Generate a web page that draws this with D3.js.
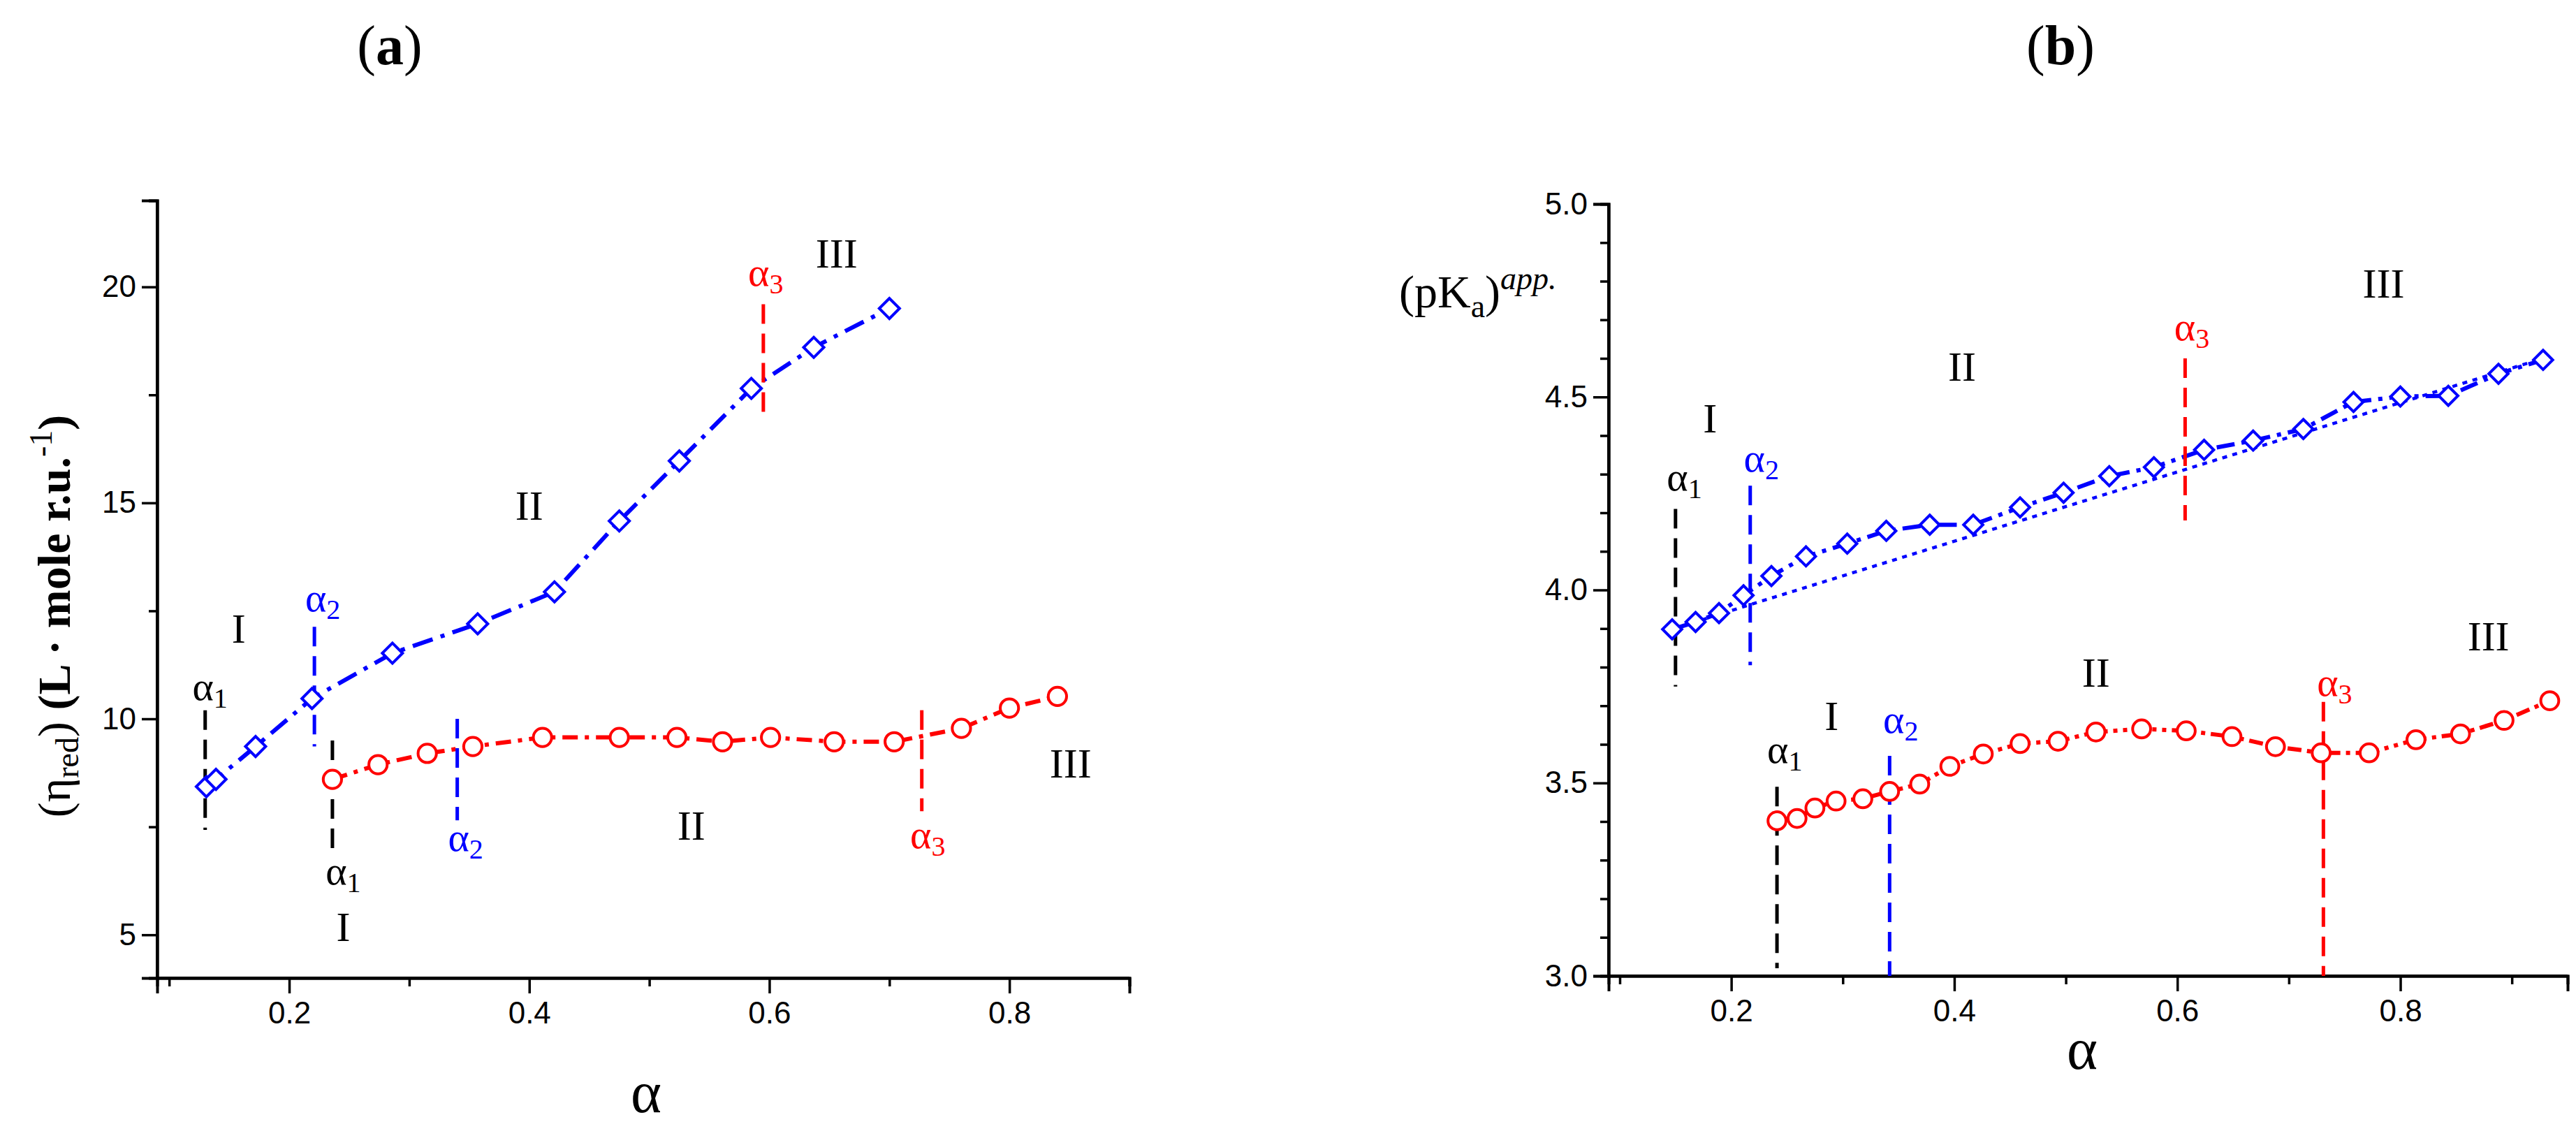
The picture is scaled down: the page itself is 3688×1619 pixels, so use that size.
<!DOCTYPE html>
<html><head><meta charset="utf-8">
<script src="https://cdn.jsdelivr.net/npm/d3@7"></script>
<style>
body{margin:0;background:#fff;}
.tick text{font-family:"Liberation Sans Narrow","Liberation Sans",sans-serif;font-size:44px;}
.serif{font-family:"Liberation Serif","DejaVu Serif",serif;}
</style></head><body>
<script>
// panel (a): reduced viscosity
var aBlue = [[0.131,8.43],[0.139,8.6],[0.172,9.36],[0.219,10.47],[0.286,11.52],[0.357,12.2],[0.421,12.94],[0.475,14.58],[0.525,15.97],[0.585,17.65],[0.637,18.6],[0.700,19.5]];
var aRed = [[0.236,8.6],[0.274,8.94],[0.315,9.2],[0.353,9.36],[0.411,9.57],[0.475,9.57],[0.523,9.57],[0.561,9.47],[0.601,9.57],[0.654,9.47],[0.704,9.47],[0.760,9.78],[0.800,10.25],[0.840,10.52]];
var aMarks = [[0.130,10.2,7.43,'#000'],[0.221,12.13,9.36,'#0000ff'],[0.236,9.5,6.8,'#000'],[0.340,10.0,7.65,'#0000ff'],[0.595,19.6,16.9,'#ff0000'],[0.727,10.2,7.86,'#ff0000']];
var aLabels = [[0.134,10.64,'α','1','#000'],[0.158,11.99,'I','','#000'],[0.228,12.7,'α','2','#0000ff'],[0.245,6.37,'α','1','#000'],[0.245,5.09,'I','','#000'],[0.347,7.15,'α','2','#0000ff'],[0.40,14.83,'II','','#000'],[0.535,7.43,'II','','#000'],[0.597,20.24,'α','3','#ff0000'],[0.656,20.67,'III','','#000'],[0.732,7.22,'α','3','#ff0000'],[0.851,8.86,'III','','#000']];
var aXTicks = [0.2,0.4,0.6,0.8];
var aYTicks = [5,10,15,20];

// panel (b): apparent pKa
var bBlue = [[0.147,3.898],[0.168,3.917],[0.189,3.94],[0.211,3.986],[0.236,4.036],[0.267,4.087],[0.304,4.12],[0.339,4.153],[0.378,4.169],[0.417,4.169],[0.459,4.214],[0.498,4.252],[0.539,4.295],[0.579,4.318],[0.624,4.363],[0.668,4.387],[0.713,4.417],[0.758,4.487],[0.800,4.501],[0.843,4.503],[0.888,4.56],[0.928,4.596]];
var bFit = [[0.147,3.898],[0.217,3.962],[0.928,4.60]];
var bRed = [[0.241,3.402],[0.259,3.408],[0.275,3.435],[0.294,3.453],[0.318,3.459],[0.342,3.478],[0.369,3.497],[0.396,3.543],[0.426,3.575],[0.459,3.602],[0.493,3.608],[0.527,3.632],[0.568,3.640],[0.608,3.635],[0.649,3.620],[0.688,3.594],[0.729,3.578],[0.772,3.578],[0.814,3.612],[0.854,3.627],[0.893,3.662],[0.934,3.713]];
var bMarks = [[0.150,4.21,3.75,'#000'],[0.217,4.27,3.805,'#0000ff'],[0.607,4.6,4.18,'#ff0000'],[0.241,3.49,3.02,'#000'],[0.342,3.57,3.0,'#0000ff'],[0.731,3.71,3.0,'#ff0000']];
var bLabels = [[0.158,4.282,'α','1','#000'],[0.181,4.433,'I','','#000'],[0.227,4.33,'α','2','#0000ff'],[0.407,4.568,'II','','#000'],[0.613,4.671,'α','3','#ff0000'],[0.785,4.782,'III','','#000'],[0.248,3.575,'α','1','#000'],[0.290,3.662,'I','','#000'],[0.352,3.654,'α','2','#0000ff'],[0.527,3.774,'II','','#000'],[0.741,3.75,'α','3','#ff0000'],[0.879,3.869,'III','','#000']];
var bXTicks = [0.2,0.4,0.6,0.8];
var bYTicks = [3.0,3.5,4.0,4.5,5.0];

var svg = d3.select('body').append('svg').attr('width',3688).attr('height',1619);

function panel(o) {
  var x = d3.scaleLinear().domain(o.xd).range([o.l,o.r]);
  var y = d3.scaleLinear().domain(o.yd).range([o.b,o.t]);
  var g = svg.append('g');
  var xa = d3.axisBottom(x).tickValues(o.xMinor).tickSize(12).tickFormat('');
  g.append('g').attr('transform','translate(0,'+o.b+')').call(xa);
  g.append('g').attr('transform','translate(0,'+o.b+')')
    .call(d3.axisBottom(x).tickValues(o.xTicks).tickSize(22).tickPadding(12).tickFormat(d3.format('.1f')));
  g.append('g').attr('transform','translate('+o.l+',0)')
    .call(d3.axisLeft(y).tickValues(o.yMinor).tickSize(12).tickFormat(''));
  g.append('g').attr('transform','translate('+o.l+',0)')
    .call(d3.axisLeft(y).tickValues(o.yTicks).tickSize(22).tickPadding(8).tickFormat(o.yFmt));
  g.selectAll('.domain').attr('stroke-width',4);
  g.selectAll('.tick line').attr('stroke-width',3.5);
  g.append('line').attr('x1',o.l).attr('x2',o.l).attr('y1',o.t).attr('y2',o.b).attr('stroke','#000').attr('stroke-width',4);
  g.append('line').attr('x1',o.l).attr('x2',o.r).attr('y1',o.b).attr('y2',o.b).attr('stroke','#000').attr('stroke-width',4);

  var line = d3.line().x(function(d){return x(d[0]);}).y(function(d){return y(d[1]);});
  o.series.forEach(function(s) {
    g.append('path').datum(s.data).attr('d',line).attr('fill','none')
      .attr('stroke',s.color).attr('stroke-width',s.w || 6).attr('stroke-dasharray',s.dash);
  });
  g.selectAll('.vm').data(o.marks).enter().append('line')
    .attr('x1',function(d){return x(d[0]);}).attr('x2',function(d){return x(d[0]);})
    .attr('y1',function(d){return y(d[1]);}).attr('y2',function(d){return y(d[2]);})
    .attr('stroke',function(d){return d[3];}).attr('stroke-width',5).attr('stroke-dasharray','28,14');
  o.series.forEach(function(s) {
    if (!s.marker) return;
    var sym = d3.symbol().type(s.marker == 'd' ? d3.symbolSquare : d3.symbolCircle).size(s.size);
    g.selectAll(null).data(s.data).enter().append('path')
      .attr('d',sym)
      .attr('transform',function(d){return 'translate('+x(d[0])+','+y(d[1])+')'+(s.marker=='d'?' rotate(45)':'');})
      .attr('fill','#fff').attr('stroke',s.color).attr('stroke-width',4);
  });
  var lt = g.selectAll('.lab').data(o.labels).enter().append('text').attr('class','serif')
    .attr('x',function(d){return x(d[0]);}).attr('y',function(d){return y(d[1]);})
    .attr('text-anchor','middle').attr('dominant-baseline','middle')
    .attr('fill',function(d){return d[4];}).attr('font-size',function(d){return d[2]=='α'?58:60;});
  lt.append('tspan').text(function(d){return d[2];});
  lt.append('tspan').attr('font-size',40).attr('dy',15).text(function(d){return d[3];});
  return {x:x,y:y,g:g};
}

var pa = panel({xd:[0.09,0.9], yd:[4,22], l:225, r:1617, t:287, b:1400,
  xTicks:aXTicks, xMinor:[0.1,0.3,0.5,0.7,0.9], yTicks:aYTicks, yMinor:[7.5,12.5,17.5,22], yFmt:d3.format('d'),
  series:[{data:aBlue,color:'#0000ff',dash:'30,12,6,12',marker:'d',size:420},
          {data:aRed,color:'#ff0000',dash:'22,10,6,10',marker:'o',size:540}],
  marks:aMarks, labels:aLabels});

var pb = panel({xd:[0.09,0.95], yd:[3,5], l:2303, r:3676, t:292, b:1397,
  xTicks:bXTicks, xMinor:[0.1,0.3,0.5,0.7,0.9], yTicks:bYTicks,
  yMinor:[3.1,3.2,3.3,3.4,3.6,3.7,3.8,3.9,4.1,4.2,4.3,4.4,4.6,4.7,4.8,4.9], yFmt:d3.format('.1f'),
  series:[{data:bFit,color:'#0000ff',dash:'7,8',w:4.5},
          {data:bBlue,color:'#0000ff',dash:'26,10,6,10',marker:'d',size:380},
          {data:bRed,color:'#ff0000',dash:'6,8,6,8,20,8',marker:'o',size:520}],
  marks:bMarks, labels:bLabels});

// titles
[[558,'a'],[2950,'b']].forEach(function(t){
  var tx = svg.append('text').attr('class','serif').attr('x',t[0]).attr('y',92)
    .attr('text-anchor','middle').attr('font-size',80);
  tx.append('tspan').text('(');
  tx.append('tspan').attr('font-weight','bold').text(t[1]);
  tx.append('tspan').text(')');
});

// axis titles
svg.append('text').attr('class','serif').attr('x',925).attr('y',1592).attr('text-anchor','middle').attr('font-size',84).text('α');
svg.append('text').attr('class','serif').attr('x',2981).attr('y',1530).attr('text-anchor','middle').attr('font-size',84).text('α');

var yl = svg.append('text').attr('class','serif').attr('transform','translate(100,882) rotate(-90)')
  .attr('text-anchor','middle').attr('font-size',66);
yl.append('tspan').text('(η');
yl.append('tspan').attr('font-size',46).attr('dy',12).text('red');
yl.append('tspan').attr('dy',-12).text(') ');
yl.append('tspan').attr('font-weight','bold').text('(L · mole r.u.');
yl.append('tspan').attr('font-size',46).attr('dy',-26).text('-1');
yl.append('tspan').attr('dy',26).attr('font-weight','bold').text(')');

var pk = svg.append('text').attr('class','serif').attr('x',2003).attr('y',440).attr('font-size',66);
pk.append('tspan').text('(pK');
pk.append('tspan').attr('font-size',46).attr('dy',14).text('a');
pk.append('tspan').attr('dy',-14).text(')');
pk.append('tspan').attr('font-size',46).attr('dy',-26).attr('font-style','italic').text('app.');
</script>
</body></html>
